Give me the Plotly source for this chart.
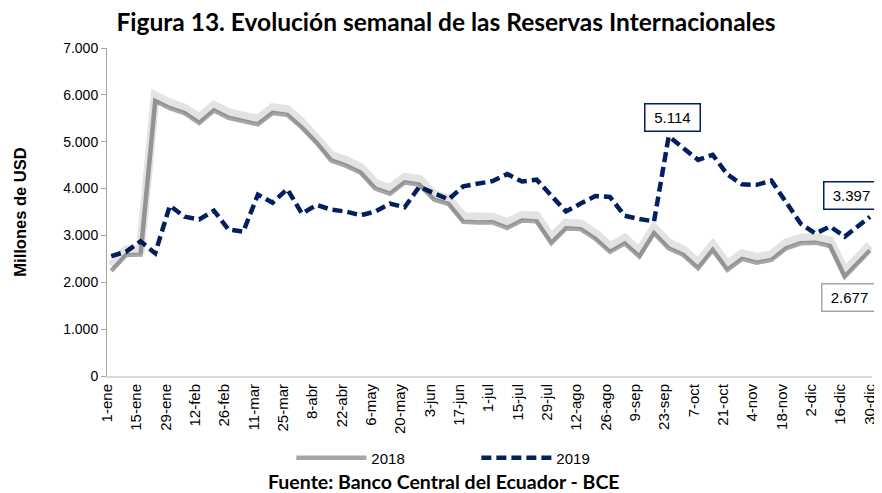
import plotly.graph_objects as go

# Day-of-year position of each weekly observation
dias = [2, 9, 16, 23, 30, 37, 44, 51, 58, 65, 72, 79, 86, 93, 100, 107, 114,
        121, 128, 135, 142, 149, 156, 163, 170, 177, 184, 191, 198, 205, 212,
        219, 226, 233, 240, 247, 254, 261, 268, 275, 282, 289, 296, 303, 310,
        317, 324, 331, 338, 345, 352, 364]

reservas_2018 = [2240, 2580, 2590, 5870, 5715, 5610, 5400, 5667, 5510, 5430,
                 5370, 5615, 5575, 5300, 4980, 4600, 4490, 4340, 4000, 3890,
                 4130, 4085, 3765, 3670, 3290, 3275, 3280, 3160, 3320, 3300,
                 2840, 3150, 3135, 2930, 2650, 2830, 2550, 3050, 2726, 2583,
                 2300, 2690, 2265, 2500, 2420, 2476, 2726, 2833, 2846, 2775,
                 2120, 2677]

reservas_2019 = [2560, 2650, 2875, 2620, 3635, 3400, 3340, 3527, 3125, 3080,
                 3870, 3700, 3990, 3465, 3652, 3550, 3509, 3430, 3510, 3680,
                 3600, 4040, 3900, 3770, 4050, 4110, 4160, 4310, 4150, 4190,
                 3850, 3510, 3680, 3840, 3820, 3420, 3350, 3300, 5114, 4860,
                 4613, 4720, 4300, 4090, 4080, 4170, 3700, 3250, 3040, 3190,
                 2975, 3397]

tick_dias = [0, 14, 28, 42, 56, 70, 84, 98, 112, 126, 140, 154, 168, 182, 196,
             210, 224, 238, 252, 266, 280, 294, 308, 322, 336, 350, 364]
tick_labels = ["1-ene", "15-ene", "29-ene", "12-feb", "26-feb", "11-mar",
               "25-mar", "8-abr", "22-abr", "6-may", "20-may", "3-jun",
               "17-jun", "1-jul", "15-jul", "29-jul", "12-ago", "26-ago",
               "9-sep", "23-sep", "7-oct", "21-oct", "4-nov", "18-nov",
               "2-dic", "16-dic", "30-dic"]
y_ticks = [0, 1000, 2000, 3000, 4000, 5000, 6000, 7000]

GRIS = "#A6A6A6"
AZUL = "#002060"


def fmt(v):
    return f"{v:,}".replace(",", ".")


fig = go.Figure()

# soft shadow under the 2018 line (same data on an offset, hidden axis)
fig.add_trace(go.Scatter(x=dias, y=reservas_2018, yaxis="y2", mode="lines",
                         line=dict(color="rgba(0,0,0,0.11)", width=9),
                         showlegend=False, hoverinfo="skip"))
fig.add_trace(go.Scatter(x=dias, y=reservas_2018, name="2018", mode="lines",
                         line=dict(color=GRIS, width=4.5)))
fig.add_trace(go.Scatter(x=dias, y=reservas_2019, name="2019", mode="lines",
                         line=dict(color=AZUL, width=4.5, dash="10px,5px")))

i_max = reservas_2019.index(max(reservas_2019))
box = dict(showarrow=False, bgcolor="white", borderwidth=1.5, borderpad=2,
           width=50, height=22, font=dict(family="Arial", size=15, color="black"))
annotations = [
    dict(x=dias[i_max], y=reservas_2019[i_max], text=fmt(reservas_2019[i_max]),
         bordercolor=AZUL, yanchor="bottom", xshift=4, yshift=4, **box),
    dict(x=dias[-1], y=reservas_2019[-1], text=fmt(reservas_2019[-1]),
         bordercolor=AZUL, yanchor="bottom", xshift=-18, yshift=7, **box),
    dict(x=dias[-1], y=reservas_2018[-1], text=fmt(reservas_2018[-1]),
         bordercolor=GRIS, yanchor="top", xshift=-20, yshift=-32, **box),
    dict(x=0.44, y=-0.323, xref="paper", yref="paper", showarrow=False,
         text="<b>Fuente: Banco Central del Ecuador - BCE</b>",
         font=dict(family="Lato", size=19.5, color="black"),
         xanchor="center", yanchor="middle"),
]

fig.update_layout(
    width=882, height=493,
    margin=dict(l=93, r=13, t=40, b=125),
    paper_bgcolor="white", plot_bgcolor="white",
    separators=",.",
    title=dict(text="<b>Figura 13. Evolución semanal de las Reservas Internacionales</b>",
               x=0.4966, xanchor="center", y=0.971, yanchor="middle",
               font=dict(family="Lato", size=24.5, color="black")),
    xaxis=dict(range=[0, 365], tickmode="array", tickvals=tick_dias,
               ticktext=tick_labels, tickangle=-90, showline=True,
               linecolor="#D9D9D9", linewidth=2, ticks="", showgrid=False,
               zeroline=False, ticklabeloverflow="allow",
               tickfont=dict(family="Arial", size=15, color="black")),
    yaxis=dict(range=[0, 7000], tickmode="array", tickvals=y_ticks,
               tickformat=",d", showline=True, linecolor=GRIS, linewidth=1,
               ticks="outside", ticklen=5, tickcolor=GRIS, showgrid=False,
               zeroline=False,
               tickfont=dict(family="Arial", size=14, color="black"),
               title=dict(text="<b>Millones de USD</b>", standoff=32,
                          font=dict(family="Arial", size=16.5, color="black"))),
    yaxis2=dict(range=[-110, 6890], overlaying="y", visible=False),
    legend=dict(orientation="h", x=0.241, xanchor="left", y=-0.25,
                yanchor="middle", itemwidth=70, entrywidth=100,
                font=dict(family="Arial", size=15, color="black")),
    annotations=annotations,
)

fig.write_html("out.html")
